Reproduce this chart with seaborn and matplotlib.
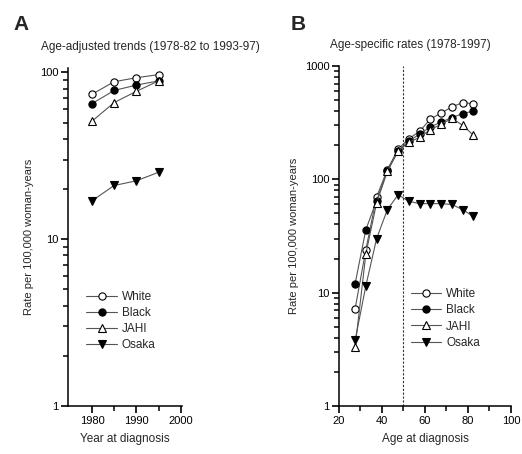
import numpy as np
import pandas as pd
import matplotlib
matplotlib.use("Agg")
import matplotlib.pyplot as plt
import matplotlib.ticker as mticker
import seaborn as sns

# ---- data ----
groups = ["White", "Black", "JAHI", "Osaka"]

years = [1980, 1985, 1990, 1995]
trend_white = [74, 88, 93, 97]
trend_black = [65, 78, 84, 89]
trend_jahi = [51, 66, 77, 89]
trend_osaka = [17.0, 21.0, 22.4, 25.2]

ages = [27.5, 32.5, 37.5, 42.5, 47.5, 52.5, 57.5, 62.5, 67.5, 72.5, 77.5, 82.5]
age_white = [7.2, 24, 70, 122, 185, 228, 265, 340, 385, 435, 475, 465]
age_black = [12, 36, 65, 118, 178, 218, 250, 290, 320, 350, 380, 400]
age_jahi = [3.3, 22, 62, 118, 178, 212, 235, 275, 305, 345, 300, 245]
age_osaka = [3.8, 11.5, 30, 54, 73, 64, 61, 61, 61, 60, 54, 47]

year_ticks = [1980, 1990, 2000]
year_minor = [1985, 1995]
age_ticks = [20, 40, 60, 80, 100]
age_minor = [30, 50, 70, 90]

sns.set_style("ticks")
plt.rcParams["font.family"] = ["Liberation Sans", "DejaVu Sans"]

styles = {
    "White": dict(marker="o", markerfacecolor="white"),
    "Black": dict(marker="o", markerfacecolor="black"),
    "JAHI": dict(marker="^", markerfacecolor="white"),
    "Osaka": dict(marker="v", markerfacecolor="black"),
}

fig = plt.figure(figsize=(5.22, 4.54), dpi=100)
axA = fig.add_axes([0.1303, 0.1057, 0.2184, 0.744])
axB = fig.add_axes([0.6494, 0.1057, 0.3295, 0.749])

def draw(ax, x, series):
    for name, vals in zip(groups, series):
        df = pd.DataFrame({"x": x, "y": vals})
        sns.lineplot(data=df, x="x", y="y", ax=ax, color="#555555", lw=0.8,
                     markersize=5.2, markeredgecolor="black", markeredgewidth=0.8,
                     label=name, **styles[name])

def style_axis(ax, xlim, ylim, major_x, minor_x):
    ax.set_yscale("log")
    ax.set_xlim(*xlim)
    ax.set_ylim(*ylim)
    ax.spines["top"].set_visible(False)
    ax.spines["right"].set_visible(False)
    for s in ["left", "bottom"]:
        ax.spines[s].set_linewidth(1.1)
        ax.spines[s].set_color("black")
    ax.xaxis.set_major_locator(mticker.FixedLocator(major_x))
    ax.xaxis.set_minor_locator(mticker.FixedLocator(minor_x))
    ax.yaxis.set_major_locator(mticker.LogLocator(base=10, numticks=10))
    ax.yaxis.set_minor_locator(mticker.LogLocator(base=10, subs=np.arange(2, 10), numticks=20))
    ax.yaxis.set_major_formatter(mticker.FuncFormatter(lambda v, p: f"{v:g}"))
    ax.yaxis.set_minor_formatter(mticker.NullFormatter())
    ax.tick_params(axis="both", which="major", length=5, width=1.2, labelsize=8,
                   colors="black", pad=2, direction="out")
    ax.tick_params(axis="both", which="minor", length=3.5, width=1.1,
                   colors="black", direction="out", bottom=True, left=True)
    ax.set_ylabel("Rate per 100,000 woman-years", fontsize=8, labelpad=4)

# Panel A
draw(axA, years, [trend_white, trend_black, trend_jahi, trend_osaka])
style_axis(axA, (1974.6, 2000.3), (1, 106), year_ticks, year_minor)
axA.set_xlabel("Year at diagnosis", fontsize=8.5, labelpad=5)
axA.legend(loc="upper left", bbox_to_anchor=(0.12, 0.355), frameon=False, fontsize=8.5,
           handlelength=2.6, handletextpad=0.4, labelspacing=0.35, borderaxespad=0)

# Panel B
draw(axB, ages, [age_white, age_black, age_jahi, age_osaka])
style_axis(axB, (20, 100), (1, 1000), age_ticks, age_minor)
axB.axvline(50, color="#333333", lw=0.8, ls=(0, (2, 1.5)))
axB.set_xlabel("Age at diagnosis", fontsize=8.5, labelpad=5)
axB.legend(loc="upper left", bbox_to_anchor=(0.39, 0.36), frameon=False, fontsize=8.5,
           handlelength=2.6, handletextpad=0.4, labelspacing=0.35, borderaxespad=0)

fig.text(150 / 522, 1 - 47 / 454, "Age-adjusted trends (1978-82 to 1993-97)", fontsize=8.5,
         ha="center", va="center")
fig.text(410 / 522, 1 - 45 / 454, "Age-specific rates (1978-1997)", fontsize=8.5,
         ha="center", va="center")
fig.text(13 / 522, 1 - 25 / 454, "A", fontsize=15, fontweight="bold", ha="left", va="center")
fig.text(291 / 522, 1 - 24 / 454, "B", fontsize=15, fontweight="bold", ha="left", va="center")

fig.savefig("out.png", dpi=100, facecolor="white")
